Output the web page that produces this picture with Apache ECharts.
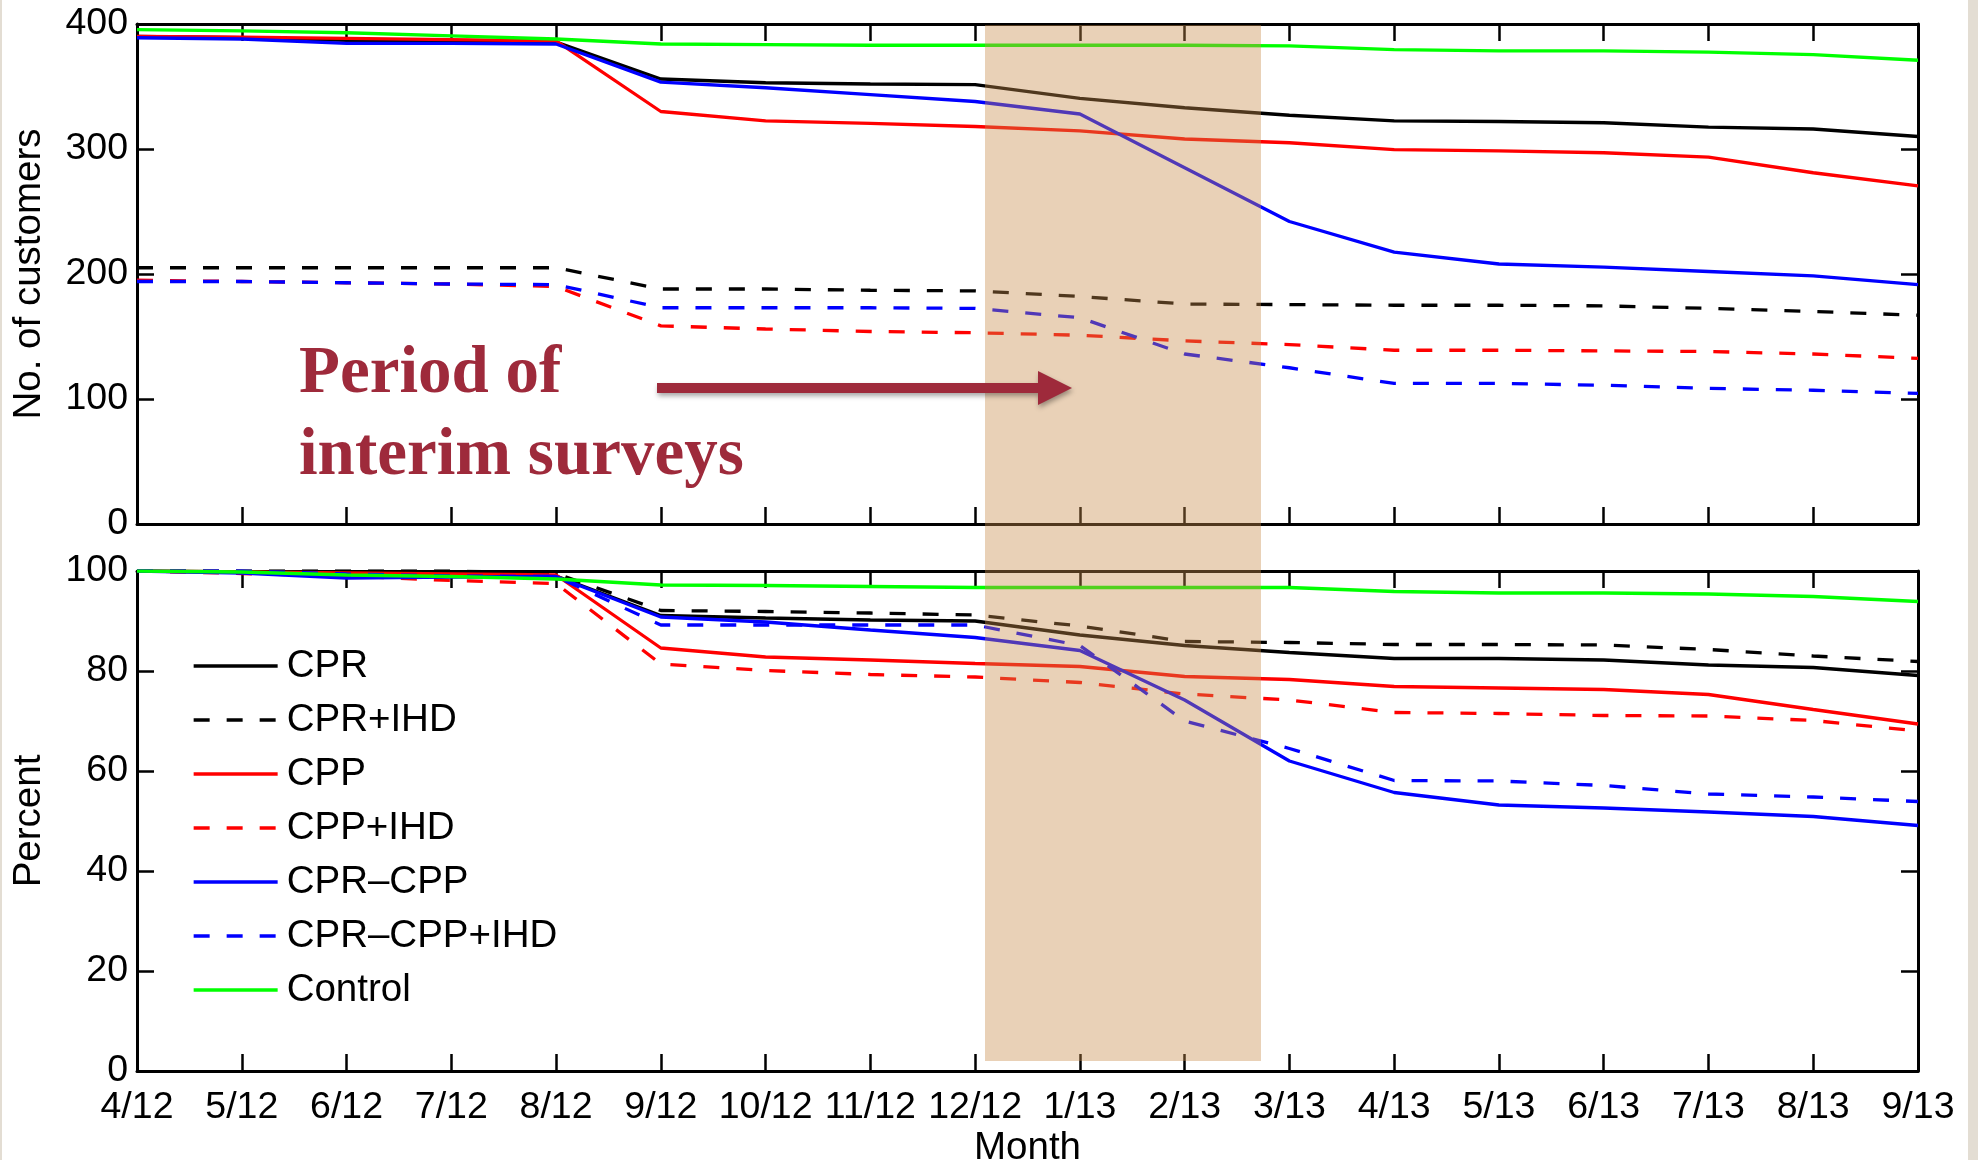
<!DOCTYPE html>
<html><head><meta charset="utf-8">
<script src="https://cdn.jsdelivr.net/npm/echarts@6/dist/echarts.min.js"></script>
<style>html,body{margin:0;padding:0;background:#fff}#c{width:1978px;height:1160px}</style>
</head><body><div id="c"></div>
<script>
// ---- data ----
const months = ['4/12','5/12','6/12','7/12','8/12','9/12','10/12','11/12','12/12','1/13','2/13','3/13','4/13','5/13','6/13','7/13','8/13','9/13'];
const seriesNames = ['CPR','CPR+IHD','CPP','CPP+IHD','CPR\u2013CPP','CPR\u2013CPP+IHD','Control'];

// Number of customers
const custCPR       = [390, 389, 387, 386.5, 385.5, 356, 353, 352, 351.5, 340.5, 333, 327, 322.5, 322, 321, 317.5, 316, 310];
const custCPRIHD    = [205, 205, 205, 205, 205, 188, 188, 187, 186.5, 182, 176, 175.5, 175, 175, 174.5, 172.5, 170, 167];
const custCPP       = [390, 389.5, 388.5, 387.5, 386.5, 330, 322.5, 320.5, 318, 314.5, 308, 305, 299.5, 298.5, 297, 293.5, 281, 270.5];
const custCPPIHD    = [195, 194, 193, 192, 190, 158.5, 156, 154, 153, 151, 146.5, 143.5, 139, 139, 138.5, 138, 136, 132.5];
const custCPRCPP    = [389, 388, 384.5, 384.5, 384, 353.5, 349, 343.5, 338, 328, 285, 242, 217.5, 208, 205.5, 202, 198.5, 191.5];
const custCPRCPPIHD = [194, 194, 193, 192, 191.5, 173, 173, 173, 172.5, 165, 136, 125, 112.5, 112.5, 111, 108.5, 107, 104.5];
const custControl   = [395.5, 394.5, 393, 390.5, 388, 384, 383.5, 383, 383, 383, 383, 382.5, 379.5, 378.5, 378.5, 377.5, 375.5, 371];

// Percent
const pctCPR       = [100, 99.8, 99.4, 99.2, 99.0, 91.1, 90.6, 90.2, 90.0, 87.2, 85.1, 83.7, 82.5, 82.5, 82.2, 81.2, 80.7, 79.1];
const pctCPRIHD    = [100, 100, 100, 100, 99.5, 92.1, 91.9, 91.6, 91.2, 89.0, 85.9, 85.7, 85.3, 85.3, 85.2, 84.3, 83.0, 81.9];
const pctCPP       = [100, 99.8, 99.6, 99.4, 99.2, 84.6, 82.8, 82.2, 81.5, 80.9, 78.9, 78.3, 76.9, 76.6, 76.3, 75.3, 72.3, 69.4];
const pctCPPIHD    = [100, 99.5, 99.0, 98.1, 97.5, 81.4, 80.1, 79.3, 78.8, 77.7, 75.4, 74.2, 71.7, 71.5, 71.1, 71.0, 70.1, 68.0];
const pctCPRCPP    = [100, 99.6, 98.6, 98.8, 98.9, 90.8, 89.8, 88.2, 86.7, 84.1, 74.2, 62.0, 55.7, 53.2, 52.6, 51.8, 50.9, 49.1];
const pctCPRCPPIHD = [100, 100, 99.4, 99.0, 98.9, 89.2, 89.2, 89.2, 89.2, 85.1, 70.0, 64.5, 58.1, 58.0, 57.1, 55.4, 54.8, 53.9];
const pctControl   = [100, 99.8, 99.2, 98.9, 98.4, 97.2, 97.1, 96.9, 96.7, 96.7, 96.7, 96.7, 95.9, 95.6, 95.6, 95.4, 94.9, 93.9];

const custData = [custCPR, custCPRIHD, custCPP, custCPPIHD, custCPRCPP, custCPRCPPIHD, custControl];
const pctData  = [pctCPR, pctCPRIHD, pctCPP, pctCPPIHD, pctCPRCPP, pctCPRCPPIHD, pctControl];

// ---- styles ----
const colors = ['#000000','#000000','#ff0000','#ff0000','#0000ff','#0000ff','#00ff00'];
const dashed = [false,true,false,true,false,true,false];
const FONT = 'Liberation Sans';
const DASH = [16, 17];
const LW = 3.3;

const axisLine = {show:true, onZero:false, lineStyle:{color:'#000', width:3}};
const axisTick = {show:true, inside:true, length:17, interval:0, lineStyle:{color:'#000', width:2.5}};
const labelStyle = {color:'#000', fontFamily:FONT, fontSize:37.5};
const nameStyle = {color:'#000', fontFamily:FONT, fontSize:38.5};

function xAx(grid, pos, showLabel, name) {
  return {
    type:'category', gridIndex:grid, position:pos, data:months, boundaryGap:false,
    axisLine, axisTick,
    axisLabel: Object.assign({show:showLabel, interval:0, margin:18}, labelStyle),
    splitLine:{show:false},
    name: name || '', nameLocation:'middle', nameGap:58,
    nameTextStyle: nameStyle
  };
}
function yAx(grid, pos, max, interval, showLabel, name) {
  return {
    type:'value', gridIndex:grid, position:pos, min:0, max:max, interval:interval,
    axisLine, axisTick,
    axisLabel: Object.assign({show:showLabel, margin:9}, labelStyle),
    splitLine:{show:false},
    name: name || '', nameLocation:'middle', nameGap:88, nameRotate:90,
    nameTextStyle: nameStyle
  };
}

const series = [];
function addSeries(dataList, xi, yi) {
  dataList.forEach((d, i) => {
    series.push({
      name: seriesNames[i], type:'line', xAxisIndex:xi, yAxisIndex:yi,
      data: d, symbol:'none', silent:true, z: 3,
      lineStyle:{color:colors[i], width:LW, type: dashed[i] ? DASH : 'solid'},
      itemStyle:{color:colors[i]}
    });
  });
}
addSeries(custData, 0, 0);
addSeries(pctData, 2, 2);

const chart = echarts.init(document.getElementById('c'), null, {renderer:'canvas'});
chart.setOption({
  animation:false,
  backgroundColor:'#ffffff',
  grid:[
    {left:137, top:24, width:1781, height:500, outerBoundsMode:'none', containLabel:false},
    {left:137, top:571, width:1781, height:500, outerBoundsMode:'none', containLabel:false}
  ],
  xAxis:[
    xAx(0,'bottom',false),
    xAx(0,'top',false),
    xAx(1,'bottom',true,'Month'),
    xAx(1,'top',false)
  ],
  yAxis:[
    yAx(0,'left',400,100,true,'No. of customers'),
    yAx(0,'right',400,100,false),
    yAx(1,'left',100,20,true,'Percent'),
    yAx(1,'right',100,20,false)
  ],
  legend:{
    show:true,
    orient:'vertical', left:187, top:641,
    itemWidth:84, itemHeight:20, itemGap:14,
    data: seriesNames,
    itemStyle:{opacity:0},
    lineStyle:{width:LW},
    textStyle:{color:'#000', fontFamily:FONT, fontSize:38.5, lineHeight:40, padding:[0,0,0,4]},
    selectedMode:false
  },
  series: series,
  graphic:[
    {type:'rect', z:100, silent:true, shape:{x:1968, y:0, width:10, height:1160}, style:{fill:'#e3ddd3'}},
    {type:'rect', z:100, silent:true, shape:{x:0, y:0, width:2, height:1160}, style:{fill:'#e3ddd3'}},
    {type:'rect', z:100, silent:true, shape:{x:985, y:25, width:276, height:1036}, style:{fill:'rgba(200,140,75,0.4)'}},
    {type:'polygon', z:110, silent:true,
      shape:{points:[[657,383],[1038,383],[1038,371],[1072,388],[1038,405],[1038,393],[657,393]]},
      style:{fill:'#9e2a3b', shadowBlur:5, shadowColor:'rgba(0,0,0,0.35)', shadowOffsetY:3, shadowOffsetX:1}},
    {type:'text', z:110, silent:true, left:299, top:341,
      style:{text:'Period of', fill:'#9e2a3b', font:'bold 67px "Liberation Serif"'}},
    {type:'text', z:110, silent:true, left:299, top:423,
      style:{text:'interim surveys', fill:'#9e2a3b', font:'bold 67px "Liberation Serif"'}}
  ]
});
</script>
</body></html>
